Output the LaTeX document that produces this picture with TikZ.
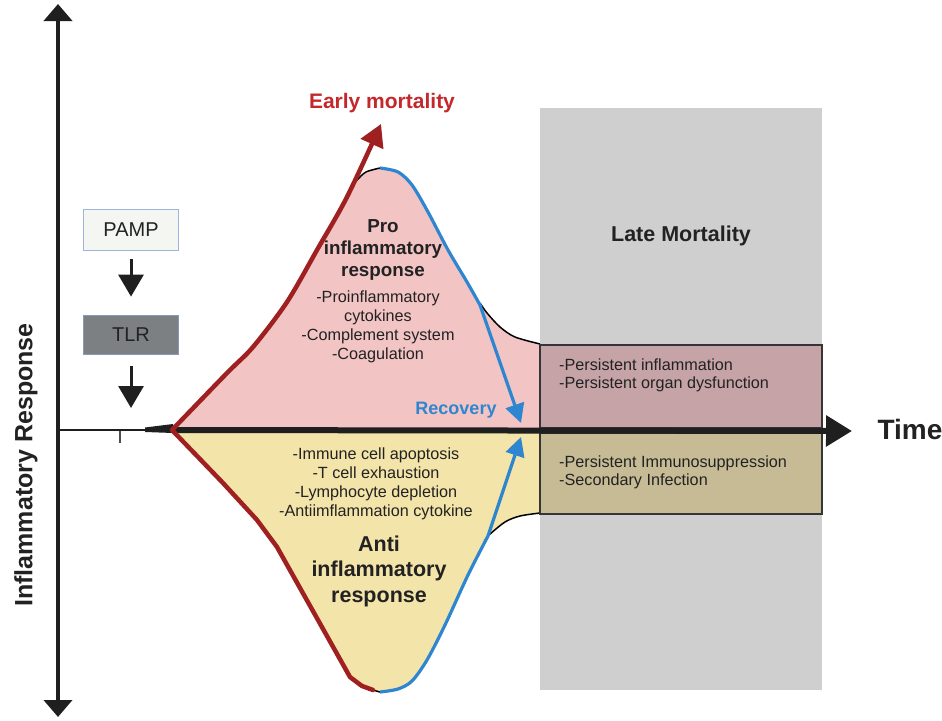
\documentclass[tikz,border=0pt]{standalone}
\usepackage{fontspec}
\setmainfont{Liberation Sans}
\usetikzlibrary{arrows.meta}
\definecolor{redline}{HTML}{9E2020}
\definecolor{redtext}{HTML}{C4282B}
\definecolor{bluel}{HTML}{2F86D0}
\definecolor{pinkf}{HTML}{F2C4C4}
\definecolor{yellowf}{HTML}{F3E4A9}
\definecolor{grayb}{HTML}{CFCFCF}
\definecolor{upbox}{HTML}{C5A3A6}
\definecolor{lowbox}{HTML}{C6BB95}
\definecolor{pampf}{HTML}{F4F7F1}
\definecolor{pampb}{HTML}{9DB4DE}
\definecolor{tlrf}{HTML}{7C8082}
\definecolor{axisc}{HTML}{1F1F1F}
\definecolor{textc}{HTML}{222222}
\tikzset{
  body/.style={font=\fontsize{16.2}{18.8}\selectfont, align=center, text=textc, inner sep=0pt},
  bodyl/.style={font=\fontsize{16.2}{18.3}\selectfont, align=left, text=textc, inner sep=0pt, anchor=west},
  protitle/.style={font=\bfseries\fontsize{18.8}{22}\selectfont, align=center, text=textc, inner sep=0pt},
  antititle/.style={font=\bfseries\fontsize{21.5}{25.5}\selectfont, align=center, text=textc, inner sep=0pt},
  flowbox/.style={draw=pampb, line width=1.8pt, text=textc, font=\fontsize{20}{23}\selectfont, minimum width=95pt, inner sep=0pt},
  flowarrow/.style={draw=axisc, line width=3pt, -{Triangle[width=25pt,length=22pt]}},
  redl/.style={draw=redline, line width=4.5pt, line join=round},
  bluel/.style={draw=bluel, line width=3.2pt, line join=round},
  outl/.style={draw=black, line width=1.5pt, line join=round},
  latebox/.style={draw=axisc!90, line width=2pt},
}
\begin{document}
\begin{tikzpicture}[x=1pt,y=-1pt]
\useasboundingbox (0,0) rectangle (942,720);
% late mortality background
\fill[grayb] (540,108) rectangle (822,690);
\node[font=\bfseries\fontsize{21.5}{25}\selectfont, text=textc] (late) at (681,236) {Late Mortality};

% pro-inflammatory area
\fill[pinkf] plot[smooth] coordinates {(172,430) (227,373) (253,347) (287,302) (317,250) (340,209) (357,180)}
  -- plot[smooth] coordinates {(357,180) (366,172) (380,168) (398,172) (412,185) (428,212) (448,250) (468,285) (487,313) (500,327) (515,337) (540,344)}
  -- (540,430) -- cycle;
\draw[outl] plot[smooth] coordinates {(350,188) (357,180) (366,172) (380,168)};
\draw[outl] plot[smooth] coordinates {(480,303) (487,313) (500,327) (515,337) (540,344)};

% anti-inflammatory area
\fill[yellowf] (175,431) -- (223,483) -- (257,520) -- (277,547) -- (350,677) -- (362,686) -- (373,690)
  -- plot[smooth] coordinates {(373,690) (380,692) (398,689) (412,681) (427,660) (445,625) (468,575) (488,536) (505,522) (520,516) (540,513)}
  -- (540,431) -- cycle;
\draw[outl] plot[smooth] coordinates {(368,690) (373,690) (380,692) (386,691)};
\draw[outl] plot[smooth] coordinates {(484,543) (488,536) (505,522) (520,516) (540,513)};

% late boxes
\draw[latebox, fill=upbox] (540,345) rectangle (822,428);
\draw[latebox, fill=lowbox] (540,433) rectangle (822,514);
\node[bodyl] (persist1) at (559,375) {-Persistent inflammation\\-Persistent organ dysfunction};
\node[bodyl] (persist2) at (559,472) {-Persistent Immunosuppression\\-Secondary Infection};

% axes
\coordinate (ytop) at (58,4);
\coordinate (ybot) at (58,717);
\coordinate (orig) at (58,430);
\coordinate (wedge) at (145,430);
\coordinate (xstart) at (172,430);
\coordinate (xend) at (852,431);
\draw[axisc, line width=4pt, {Triangle[width=28pt,length=17pt]}-{Triangle[width=28pt,length=17pt]}] (ybot) -- (ytop);
\draw[axisc, line width=2pt] (orig) -- (wedge);
\fill[axisc] (145,427.5) -- (173,424) -- (173,433) -- (145,432) -- cycle;
\draw[axisc, line width=6pt, -{Triangle[width=30pt,length=26pt]}] (xstart) -- (xend);
\coordinate (tick) at (120,431);
\draw[axisc!80, line width=1.4pt] (tick) -- ++(0,12);

% red early mortality line
\coordinate (redstart) at (172,430);
\coordinate (redtip) at (381,124);
\draw[redl, -{Triangle[width=24pt,length=22pt]}] plot[smooth] coordinates {(redstart) (227,373) (253,347) (287,302) (317,250) (347,197) (redtip)};
\draw[redl, line cap=round] (redstart) -- (223,483) -- (257,520) -- (277,547) -- (350,677) -- (362,686) -- (373,690);

% blue recovery lines
\coordinate (bluetop) at (380,168);
\coordinate (bluebot) at (380,692);
\coordinate (recov) at (521,423);
\coordinate (recov2) at (521,437);
\draw[bluel, -{Triangle[width=19pt,length=19pt]}] plot[smooth] coordinates {(bluetop) (398,172) (412,185) (428,212) (448,250) (467,282) (480,305)} -- (recov);
\draw[bluel, -{Triangle[width=19pt,length=19pt]}] plot[smooth] coordinates {(bluebot) (398,689) (412,681) (427,660) (445,625) (468,575) (488,536)} -- (recov2);

% labels
\node[font=\bfseries\fontsize{21}{25}\selectfont, text=redtext] (early) at (382,103) {Early mortality};
\node[font=\bfseries\fontsize{18}{21}\selectfont, text=bluel] (recovery) at (456,410) {Recovery};
\node[font=\bfseries\fontsize{28}{32}\selectfont, text=textc, anchor=west] (time) at (874,429) {Time};
\node[font=\bfseries\fontsize{25}{29}\selectfont, text=textc, rotate=90] (ylabel) at (26,465) {Inflammatory Response};

\node[protitle] (pro) at (383,250) {Pro\\inflammatory\\response};
\node[body] (proitems) at (378,327) {-Proinflammatory\\cytokines\\-Complement system\\-Coagulation};
\node[body] (antiitems) at (376,484) {-Immune cell apoptosis\\-T cell exhaustion\\-Lymphocyte depletion\\-Antiimflammation cytokine};
\node[antititle] (anti) at (379,571) {Anti\\inflammatory\\response};

% PAMP / TLR
\node[flowbox, fill=pampf, minimum height=41pt] (pamp) at (131,230) {PAMP};
\node[flowbox, fill=tlrf, draw=pampb!85!black, minimum height=39pt] (tlr) at (131,335) {TLR};
\coordinate (trig) at (131,408);
\draw[flowarrow] ([yshift=-8pt]pamp.south) -- ([yshift=18pt]tlr.north);
\draw[flowarrow] ([yshift=-11pt]tlr.south) -- (trig);
\end{tikzpicture}
\end{document}
